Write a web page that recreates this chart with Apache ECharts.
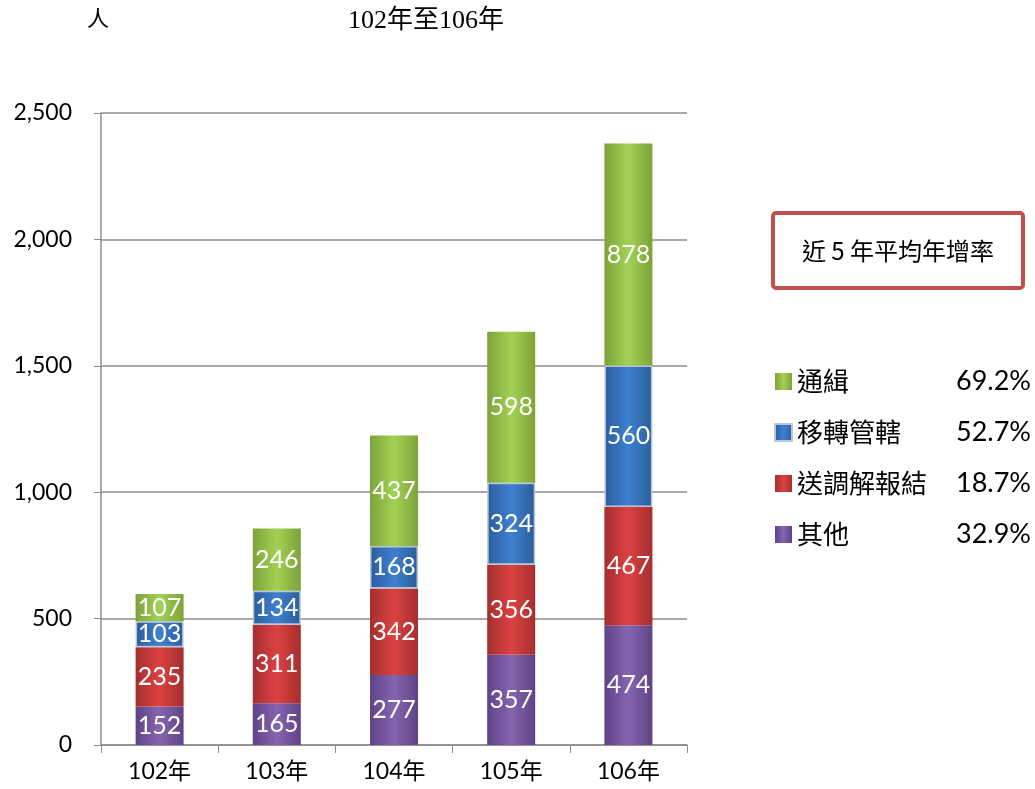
<!DOCTYPE html>
<html>
<head>
<meta charset="utf-8">
<style>
  html, body { margin: 0; padding: 0; background: #fff; }
  #chart { width: 1035px; height: 789px; }
</style>
<script src="https://cdn.jsdelivr.net/npm/echarts@6/dist/echarts.min.js"></script>
</head>
<body>
<div id="chart"></div>
<script>
// data
const years = ['102年', '103年', '104年', '105年', '106年'];
const other = [152, 165, 277, 357, 474];        // 其他
const mediation = [235, 311, 342, 356, 467];    // 送調解報結
const transfer = [103, 134, 168, 324, 560];     // 移轉管轄
const wanted = [107, 246, 437, 598, 878];       // 通緝
const legendOrder = ['通緝', '移轉管轄', '送調解報結', '其他'];
const growthRates = { '通緝': '69.2%', '移轉管轄': '52.7%', '送調解報結': '18.7%', '其他': '32.9%' };

const numFont = "Lato, 'Noto Sans CJK TC', sans-serif";
const cjkFont = "'Noto Sans CJK TC', sans-serif";
const serifFont = "'Liberation Serif', 'Noto Sans CJK TC', serif";

function barGradient(edge, center) {
    return new echarts.graphic.LinearGradient(0, 0, 1, 0, [
        { offset: 0, color: edge },
        { offset: 0.5, color: center },
        { offset: 1, color: edge }
    ]);
}

function makeSeries(name, data, edge, center, border) {
    return {
        name: name,
        type: 'bar',
        stack: 'total',
        barWidth: 48,
        data: data,
        itemStyle: {
            color: barGradient(edge, center),
            borderColor: border || 'transparent',
            borderWidth: border ? 1.5 : 0
        },
        label: {
            show: true,
            position: 'inside',
            color: '#fff',
            fontSize: 25,
            fontFamily: numFont
        }
    };
}

let chart = echarts.init(document.getElementById('chart'));

const option = {
    animation: false,
    grid: { left: 101, right: 348, top: 113, bottom: 44 },
    xAxis: {
        type: 'category',
        data: years,
        axisLine: { lineStyle: { color: '#8c8c8c', width: 1.5 } },
        axisTick: { show: true, length: 8, lineStyle: { color: '#8c8c8c' } },
        axisLabel: { color: '#000', fontSize: 23, fontFamily: numFont, margin: 15 }
    },
    yAxis: {
        type: 'value',
        min: 0,
        max: 2500,
        interval: 500,
        axisLine: { show: true, lineStyle: { color: '#8c8c8c', width: 1.5 } },
        axisTick: { show: true, length: 7, lineStyle: { color: '#8c8c8c' } },
        splitLine: { lineStyle: { color: '#8c8c8c', width: 1.5 } },
        axisLabel: {
            color: '#000', fontSize: 23, fontFamily: numFont, margin: 29,
            formatter: function (v) { return v.toLocaleString('en-US'); }
        }
    },
    legend: {
        orient: 'vertical',
        left: 769,
        top: 363,
        itemWidth: 17,
        itemHeight: 17,
        itemGap: 24,
        icon: 'rect',
        data: legendOrder,
        formatter: function (name) {
            return '{n|' + name + '}{p|' + growthRates[name] + '}';
        },
        textStyle: {
            rich: {
                n: { width: 132, fontSize: 26, lineHeight: 22, color: '#000', fontFamily: cjkFont },
                p: { width: 102, align: 'right', fontSize: 27, lineHeight: 22, color: '#000', fontFamily: numFont }
            }
        }
    },
    graphic: [
        {
            type: 'text', left: 87, top: 9,
            style: { text: '人', fontSize: 22, fill: '#000', fontFamily: serifFont }
        },
        {
            type: 'text', left: 348, top: 8,
            style: { text: '102年至106年', fontSize: 26, fill: '#000', fontFamily: serifFont }
        },
        {
            type: 'rect',
            shape: { x: 773, y: 213, width: 250, height: 75, r: 3 },
            style: { fill: '#fff', stroke: '#c0504d', lineWidth: 4 }
        },
        {
            type: 'text', x: 898, y: 251,
            style: {
                text: '近 5 年平均年增率', fontSize: 24, fill: '#000',
                fontFamily: cjkFont,
                align: 'center', verticalAlign: 'middle'
            }
        }
    ],
    series: [
        makeSeries('其他', other, '#5f4386', '#8565b0'),
        makeSeries('送調解報結', mediation, '#a52e2e', '#dc4242'),
        makeSeries('移轉管轄', transfer, '#2b5d9c', '#3f80d0', '#b8c6d8'),
        makeSeries('通緝', wanted, '#7da33a', '#a3d154')
    ]
};

chart.setOption(option);
</script>
</body>
</html>
